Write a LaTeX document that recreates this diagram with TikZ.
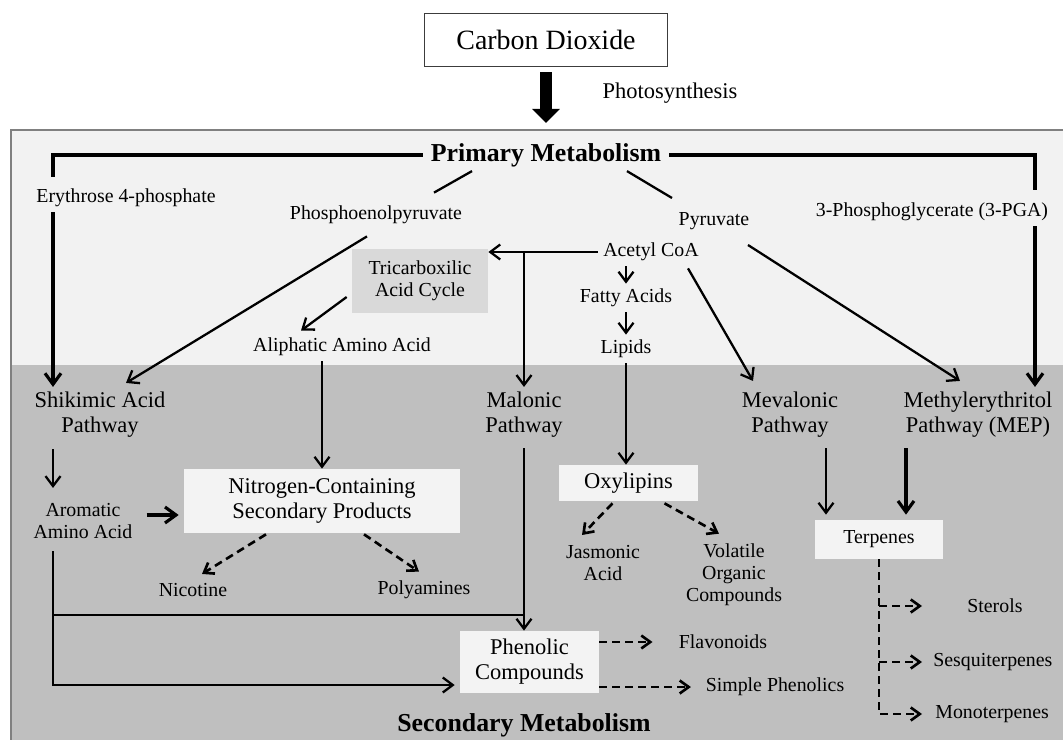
\documentclass[tikz,border=0pt]{standalone}
\usepackage{fontspec}
\setmainfont{Liberation Serif}
\usepackage{xcolor}
\usepackage{tikz}
\usetikzlibrary{arrows.meta, positioning, calc}
\definecolor{panellight}{RGB}{242,242,242}
\definecolor{paneldark}{RGB}{191,191,191}
\definecolor{panelframe}{RGB}{128,128,128}
\definecolor{tcafill}{RGB}{217,217,217}
\definecolor{boxfill}{RGB}{243,243,243}
\definecolor{co2frame}{RGB}{60,60,60}
\tikzset{
  lbl/.style={font=\fontsize{11.3}{12.5}\selectfont, align=center, inner sep=0.1cm},
  plbl/.style={font=\fontsize{12.8}{14.2}\selectfont, align=center, inner sep=0.1cm},
  title/.style={font=\fontsize{14.7}{17}\selectfont\bfseries, inner sep=0.16cm},
  whitebox/.style={rectangle, fill=boxfill, align=center, inner sep=0pt},
  arrow/.style={-{Straight Barb[length=0.2cm, width=0.3cm]}, line width=1.3pt},
  thickarrow/.style={-{Straight Barb[length=0.22cm, width=0.32cm]}, line width=1.8pt},
  dasharrow/.style={-{Straight Barb[length=0.18cm, width=0.26cm]}, line width=1.5pt, dash pattern=on 0.16cm off 0.1cm},
  line/.style={line width=1.3pt},
  bracket/.style={line width=1.8pt},
  bigarrow/.style={-{Triangle[length=0.28cm, width=0.54cm]}, line width=0.24cm}
}

\begin{document}
\begin{tikzpicture}[x=0.02cm, y=-0.02cm]
  \useasboundingbox (0,0) rectangle (1063,740);
  % Primary and secondary panels
  \fill[panellight] (11,130) rectangle (1063,365);
  \fill[paneldark] (11,365) rectangle (1063,740);
  \draw[panelframe, line width=0.6pt] (11,740) -- (11,130) -- (1063,130);

  % Top
  \node[draw=co2frame, line width=1pt, fill=white, minimum width=4.86cm, minimum height=1.06cm,
    inner sep=0pt, font=\fontsize{15.9}{18}\selectfont] (co2) at (546,40) {Carbon Dioxide};
  \node[plbl] (photo) at (670,93) {Photosynthesis};
  \node[title] (primary) at (546,155) {Primary Metabolism};
  \node[title] (secondary) at (524,725) {Secondary Metabolism};

  % Precursors
  \node[lbl] (ery) at (126,198) {Erythrose 4-phosphate};
  \node[lbl] (pep) at (376,215) {Phosphoenolpyruvate};
  \node[lbl] (pyr) at (714,221) {Pyruvate};
  \node[lbl] (pga) at (932,212) {3-Phosphoglycerate (3-PGA)};
  \node[lbl] (acoa) at (651,252) {Acetyl CoA};
  \node[lbl] (fatty) at (626,298) {Fatty Acids};
  \node[lbl] (lipids) at (626,349) {Lipids};
  \node[lbl] (aliph) at (342,347) {Aliphatic Amino Acid};
  \node[lbl, whitebox, fill=tcafill, minimum width=2.72cm, minimum height=1.3cm] (tca) at (420,281)
    {Tricarboxilic\\Acid Cycle};

  % Pathways
  \node[plbl] (shik) at (100,415) {Shikimic Acid\\Pathway};
  \node[plbl] (malonic) at (524,415) {Malonic\\Pathway};
  \node[plbl] (meval) at (790,415) {Mevalonic\\Pathway};
  \node[plbl] (mep) at (978,415) {Methylerythritol\\Pathway (MEP)};

  % Secondary products
  \node[lbl] (arom) at (83,521) {Aromatic\\Amino Acid};
  \node[plbl, whitebox, minimum width=5.52cm, minimum height=1.28cm] (ncsp) at (322,501)
    {Nitrogen-Containing\\Secondary Products};
  \node[lbl] (nicotine) at (193,590) {Nicotine};
  \node[lbl] (polyam) at (424,590) {Polyamines};
  \node[plbl, whitebox, minimum width=2.78cm, minimum height=0.72cm] (oxyl) at (628.5,483) {Oxylipins};
  \node[lbl] (jasm) at (603,563) {Jasmonic\\Acid};
  \node[lbl] (voc) at (734,575) {Volatile\\Organic\\Compounds};
  \node[lbl, whitebox, minimum width=2.56cm, minimum height=0.78cm] (terp) at (879,539.5) {Terpenes};
  \node[lbl, anchor=west] (sterols) at (962,606) {Sterols};
  \node[lbl, anchor=west] (sesq) at (928,662) {Sesquiterpenes};
  \node[lbl, anchor=west] (mono) at (930,714) {Monoterpenes};
  \node[plbl, whitebox, minimum width=2.78cm, minimum height=1.24cm] (phen) at (529.5,662)
    {Phenolic\\Compounds};
  \node[lbl] (flav) at (723,642) {Flavonoids};
  \node[lbl] (simple) at (775,687) {Simple Phenolics};

  % Photosynthesis arrow and bracket
  \draw[bigarrow, shorten <=0.1cm, shorten >=0.24cm] (co2) -- (primary);
  \coordinate (brkL) at (53,177);
  \coordinate (brkR) at (1035,190);
  \draw[bracket] (primary.west) -| (brkL);
  \draw[bracket] (primary.east) -| (brkR);
  \draw[thickarrow] (ery.south -| brkL) -- (shik.north -| brkL);
  \draw[thickarrow] (pga.south -| brkR) -- (mep.north -| brkR);
  \draw[line] ($(primary.south)+(-74,-4)$) -- ($(pep.north)+(58,-8)$);
  \draw[line] ($(primary.south)+(81,-4)$) -- ($(pyr.north)+(-42,-9)$);

  % Shikimic and aliphatic branches
  \draw[arrow] ($(pep.south)+(-9,7)$) -- ($(shik.north)+(26,-4)$);
  \draw[arrow] (acoa.west) -- (acoa.west -| tca.east);
  \draw[arrow] (acoa.west -| malonic.north) -- (malonic.north);
  \draw[arrow] ($(tca.west)+(-5,16)$) -- ($(aliph.north)+(-41,-2)$);
  \draw[arrow] (aliph.south -| ncsp.north) -- (ncsp.north);

  % Acetyl CoA branches
  \draw[arrow] (acoa.south -| fatty.north) -- (fatty.north);
  \draw[arrow] (fatty) -- (lipids);
  \draw[arrow] (lipids.south) -- (lipids.south |- oxyl.north);
  \draw[arrow] ($(acoa.south)+(37,2)$) -- ($(meval.north)+(-37,-6)$);
  \draw[arrow] ($(pyr.south)+(34,10)$) -- ($(mep.north)+(-18,-6)$);

  % Aromatic amino acid and phenolics
  \draw[arrow] ($(shik.south -| brkL)+(0,6)$) -- ($(arom.north -| brkL)+(0,-10)$);
  \draw[thickarrow, shorten <=0.18cm, shorten >=0.1cm] ($(arom.east)+(0,-6)$) -- ($(arom.east -| ncsp.west)+(0,-6)$);
  \coordinate (joinM) at (524,615);
  \draw[line] ($(arom.south -| brkL)+(0,7)$) |- (joinM);
  \draw[arrow, shorten >=0.1cm] (brkL |- joinM) |- ($(phen.west)+(0,23)$);
  \draw[arrow] ($(malonic.south)+(0,5)$) -- (malonic.south |- phen.north);

  % Terpenes
  \coordinate (terpA) at ($(terp.north)+(-53,-5)$);
  \coordinate (terpB) at ($(terp.north)+(27,-5)$);
  \draw[arrow] ($(meval.south -| terpA)+(0,5)$) -- (terpA);
  \draw[thickarrow] ($(mep.south -| terpB)+(0,5)$) -- (terpB);

  % Dashed product arrows
  \draw[dasharrow] ($(ncsp.south)+(-56,1)$) -- ($(nicotine.north)+(9,-4)$);
  \draw[dasharrow] ($(ncsp.south)+(42,1)$) -- ($(polyam.north)+(-5,-4)$);
  \draw[dasharrow] ($(oxyl.south)+(-16,2)$) -- ($(jasm.north)+(-21,-5)$);
  \draw[dasharrow] ($(oxyl.south)+(36,2)$) -- ($(voc.north)+(-15,-5)$);
  \draw[dasharrow, shorten >=0.42cm] (phen.east |- flav.west) -- (flav.west);
  \draw[dasharrow, shorten >=0.19cm] (phen.east |- simple.west) -- (simple.west);
  \draw[dasharrow, shorten >=0.16cm] (terp.south) |- (mono.west);
  \draw[dasharrow, shorten >=0.12cm] (terp.south |- sesq.west) -- (sesq.west);
  \draw[dasharrow, shorten >=0.8cm] (terp.south |- sterols.west) -- (sterols.west);
\end{tikzpicture}
\end{document}
